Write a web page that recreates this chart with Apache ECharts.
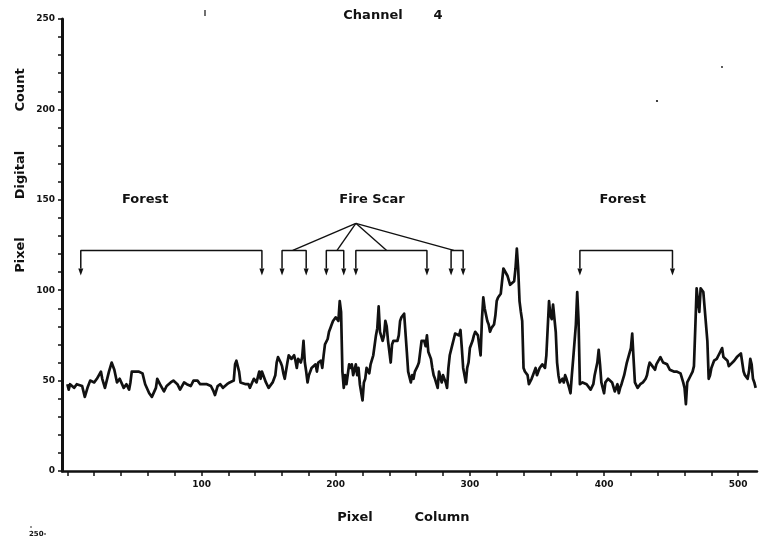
<!DOCTYPE html>
<html>
<head>
<meta charset="utf-8">
<script src="https://cdn.jsdelivr.net/npm/echarts@6/dist/echarts.min.js"></script>
<style>
  html, body { margin: 0; padding: 0; background: #ffffff; }
  #chart { width: 761px; height: 538px; }
</style>
</head>
<body>
<div id="chart"></div>
<script>
// Channel 4 digital counts along one image row: [pixel column, digital count]
const channel4Profile = [
  [0,48],[1,45],[2,48],[5,46],[7,48],[8,49],[11,47],[13,41],[15,46],[17,50],
  [20,49],[22,51],[25,55],[26,51],[28,46],[31,55],[33,60],[35,56],[37,49],[39,51],
  [42,46],[44,48],[46,45],[47,49],[48,55],[51,55],[53,55],[56,54],[58,48],[61,43],
  [63,41],[66,46],[67,51],[69,48],[72,44],[74,47],[77,49],[79,50],[82,48],[84,45],
  [87,49],[89,48],[92,47],[94,50],[97,50],[99,48],[102,48],[104,48],[107,47],[109,44],
  [110,42],[112,47],[114,48],[116,46],[119,48],[121,49],[124,50],[125,59],[126,61],[128,55],
  [129,49],[130,50],[133,48],[135,48],[136,46],[139,51],[141,49],[143,55],[144,51],[145,55],
  [148,49],[150,46],[153,49],[155,53],[156,60],[157,63],[159,60],[160,58],[161,54],[162,51],
  [164,60],[165,64],[166,65],[167,62],[169,64],[170,61],[171,57],[172,62],[174,60],[175,63],
  [176,72],[177,60],[178,55],[179,49],[180,53],[182,57],[185,59],[186,55],[187,60],[189,61],
  [190,57],[191,64],[192,70],[194,73],[195,77],[196,79],[197,81],[198,83],[200,85],[201,86],
  [202,83],[203,94],[204,88],[205,55],[206,46],[207,53],[208,48],[210,59],[211,57],[212,59],
  [213,53],[215,59],[216,53],[217,57],[218,48],[220,39],[221,49],[222,51],[223,57],[225,54],
  [226,59],[227,60],[228,64],[230,75],[231,79],[232,91],[233,77],[235,72],[236,75],[237,83],
  [238,80],[239,72],[241,60],[242,70],[243,72],[244,73],[246,72],[247,75],[248,83],[249,85],
  [251,87],[252,88],[253,66],[254,55],[256,49],[257,53],[258,51],[259,55],[261,58],[262,60],
  [263,66],[264,72],[266,72],[267,69],[268,75],[269,66],[271,62],[272,57],[273,53],[274,51],
  [276,46],[277,55],[278,54],[279,49],[280,53],[282,49],[283,46],[284,57],[285,64],[287,70],
  [288,73],[289,76],[290,77],[292,75],[293,78],[294,68],[295,57],[297,49],[298,57],[299,60],
  [300,68],[302,72],[303,75],[304,77],[305,78],[306,75],[308,64],[309,84],[310,96],[311,90],
  [313,83],[314,81],[315,77],[316,79],[318,81],[319,86],[320,94],[321,96],[323,98],[324,99],
  [325,112],[326,111],[328,108],[329,107],[330,103],[331,104],[333,105],[334,112],[335,123],[336,112],
  [337,94],[338,88],[339,83],[340,57],[341,55],[343,53],[344,48],[345,49],[346,51],[347,53],
  [349,57],[350,53],[351,55],[352,57],[354,59],[355,60],[356,57],[357,64],[359,94],[360,86],
  [361,84],[362,92],[364,77],[365,60],[366,53],[367,49],[369,51],[370,49],[371,53],[372,51],
  [374,46],[375,43],[376,53],[377,62],[379,81],[380,99],[381,83],[382,48],[384,49],[385,48],
  [387,48],[390,45],[392,48],[393,53],[395,60],[396,67],[397,59],[398,49],[400,43],[401,49],
  [403,51],[406,49],[407,49],[408,44],[410,48],[411,43],[412,46],[413,48],[415,53],[417,60],
  [420,68],[421,76],[422,62],[423,49],[425,46],[426,45],[427,48],[429,49],[431,51],[432,53],
  [433,57],[434,60],[436,58],[437,59],[438,56],[439,59],[442,63],[443,64],[444,60],[447,59],
  [449,56],[452,55],[454,55],[457,54],[458,53],[459,49],[460,46],[461,37],[462,49],[464,52],
  [466,55],[467,58],[468,79],[469,101],[470,94],[471,88],[472,101],[473,102],[474,99],[475,90],
  [477,72],[478,51],[479,53],[480,57],[482,61],[483,60],[484,62],[486,65],[488,68],[489,63],
  [492,61],[493,58],[494,59],[497,61],[499,63],[502,65],[503,64],[504,55],[505,53],[507,51],
  [508,55],[509,62],[510,59],[511,51],[512,49],[513,46]
];

// Axis ticks and labels
const xTickValues = [0,20,40,60,80,100,120,140,160,180,200,220,240,260,280,300,320,340,360,380,400,420,440,460,480,500];
const xLabelValues = [100,200,300,400,500];
const yTickValues = [0,10,20,30,40,50,60,70,80,90,100,110,120,130,140,150,160,170,180,190,200,210,220,230,240,250];
const yLabelValues = [0,50,100,150,200,250];

// Column ranges marked by brackets (start column, end column)
const forestLeftRange = [10, 145];
const fireScarRanges = [[160, 178], [193, 206], [215, 268], [286, 295]];
const forestRightRange = [382, 451];
// Where the fire-scar leader lines meet each bracket, and their common origin
const fireScarJoins = [168, 201, 238, 288];
const fireScarOrigin = [215, 137];
// Bracket bar level, stem end and arrowhead level (digital count)
const bracketBar = 122;
const bracketStemEnd = 112;
const arrowLevel = 110;

// Region names with their anchor [column, count]
const regionNames = ['Forest', 'Fire Scar', 'Forest'];
const regionAnchors = [[58, 150], [227, 150], [414, 150]];

const INK = '#111111';
const FONT = 'DejaVu Sans';

const allRanges = [forestLeftRange].concat(fireScarRanges, [forestRightRange]);

const bracketSeries = allRanges.map(function (r) {
  return {
    type: 'line',
    silent: true,
    symbol: 'none',
    lineStyle: { color: INK, width: 1.5 },
    data: [[r[0], bracketStemEnd], [r[0], bracketBar], [r[1], bracketBar], [r[1], bracketStemEnd]],
    z: 3
  };
});

const leaderSeries = fireScarJoins.map(function (c) {
  return {
    type: 'line',
    silent: true,
    symbol: 'none',
    lineStyle: { color: INK, width: 1.4 },
    data: [fireScarOrigin, [c, bracketBar]],
    z: 3
  };
});

const arrowPoints = [];
allRanges.forEach(function (r) {
  arrowPoints.push([r[0], arrowLevel], [r[1], arrowLevel]);
});

function plainText(text, x, y, size, rotation) {
  return {
    type: 'text', x: x, y: y, rotation: rotation || 0,
    style: { text: text, fill: INK, font: 'bold ' + size + 'px ' + FONT, textAlign: 'center', textVerticalAlign: 'middle' }
  };
}

const chart = echarts.init(document.getElementById('chart'), null, { renderer: 'canvas' });

chart.setOption({
  animation: false,
  backgroundColor: '#ffffff',
  grid: { left: 62, right: 4, top: 19, bottom: 67, containLabel: false },
  xAxis: {
    type: 'value',
    min: -4,
    max: 514,
    splitLine: { show: false },
    axisLine: { onZero: false, lineStyle: { color: INK, width: 2.5 } },
    axisTick: { customValues: xTickValues, length: 5, lineStyle: { color: INK, width: 1.5 } },
    axisLabel: {
      customValues: xLabelValues,
      margin: 9,
      color: INK,
      fontSize: 9,
      fontWeight: 'bold',
      fontFamily: FONT
    }
  },
  yAxis: {
    type: 'value',
    min: 0,
    max: 250,
    splitLine: { show: false },
    axisLine: { onZero: false, lineStyle: { color: INK, width: 3 } },
    axisTick: { customValues: yTickValues, length: 4, lineStyle: { color: INK, width: 1.5 } },
    axisLabel: {
      customValues: yLabelValues,
      margin: 7,
      color: INK,
      fontSize: 9,
      fontWeight: 'bold',
      fontFamily: FONT
    }
  },
  series: [
    {
      type: 'line',
      name: 'Channel 4',
      data: channel4Profile,
      symbol: 'none',
      lineStyle: { color: INK, width: 2.7, join: 'round' },
      z: 4
    }
  ].concat(bracketSeries, leaderSeries, [
    {
      type: 'scatter',
      silent: true,
      symbol: 'triangle',
      symbolRotate: 180,
      symbolSize: [5, 7],
      itemStyle: { color: INK, opacity: 1 },
      data: arrowPoints,
      z: 4
    },
    {
      type: 'scatter',
      silent: true,
      symbolSize: 1,
      itemStyle: { color: 'rgba(0,0,0,0)', opacity: 1 },
      label: {
        show: true,
        position: 'inside',
        formatter: '{b}',
        color: INK,
        fontSize: 13,
        fontWeight: 'bold',
        fontFamily: FONT
      },
      data: regionNames.map(function (n, i) { return { name: n, value: regionAnchors[i] }; }),
      z: 5
    }
  ]),
  graphic: [
    plainText('Channel', 373, 16, 13),
    plainText('4', 438, 16, 13),
    plainText('Pixel', 355, 518, 13),
    plainText('Column', 442, 518, 13),
    plainText('Pixel', 21, 255, 13, Math.PI / 2),
    plainText('Digital', 21, 175, 13, Math.PI / 2),
    plainText('Count', 21, 90, 13, Math.PI / 2),
    { type: 'text', x: 29, y: 534, style: { text: '250-', fill: INK, font: 'bold 7px ' + FONT, textVerticalAlign: 'middle' } },
    { type: 'circle', shape: { cx: 31, cy: 527, r: 0.8 }, style: { fill: INK } },
    { type: 'line', shape: { x1: 205, y1: 10, x2: 205, y2: 16 }, style: { stroke: INK, lineWidth: 1.2 } },
    { type: 'circle', shape: { cx: 722, cy: 67, r: 0.9 }, style: { fill: INK } },
    { type: 'circle', shape: { cx: 657, cy: 101, r: 1.1 }, style: { fill: INK } }
  ]
});
</script>
</body>
</html>
